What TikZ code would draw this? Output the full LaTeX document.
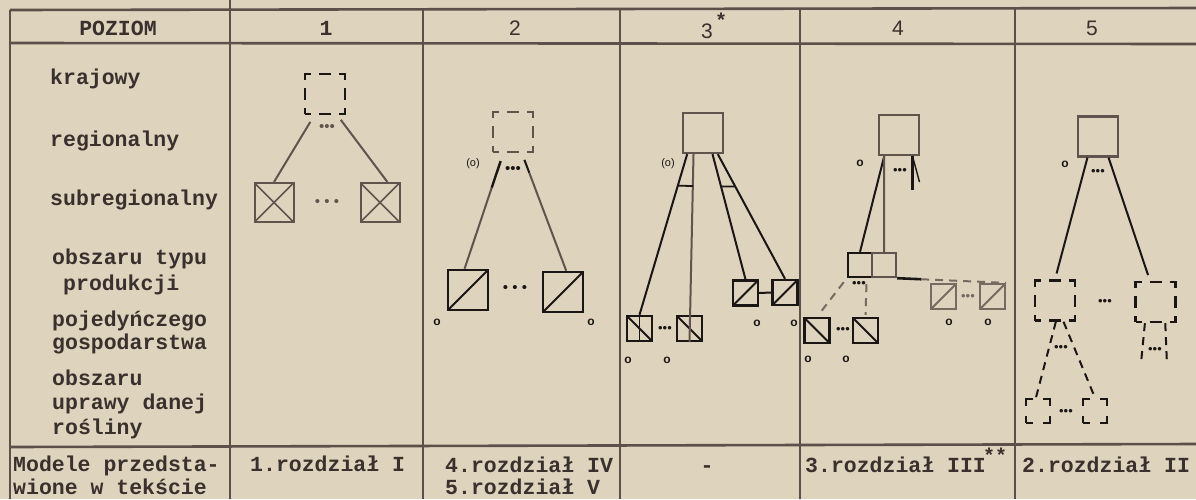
\documentclass[tikz,border=0pt]{standalone}
\usepackage{fontspec}
\setmonofont{Liberation Mono}
\setsansfont{Liberation Sans}
\usetikzlibrary{calc}
\definecolor{paper}{RGB}{222,211,188}
\definecolor{ink}{RGB}{26,22,22}
\definecolor{gink}{RGB}{96,84,78}
\definecolor{lgink}{RGB}{118,106,98}
\definecolor{rulec}{RGB}{92,80,75}
\definecolor{txt}{RGB}{58,49,46}
\tikzset{
  rulel/.style={rulec,line width=2.6pt},
  tw/.style={font=\ttfamily\bfseries\fontsize{21.5}{25}\selectfont,text=txt,inner sep=0pt,anchor=base west},
  twc/.style={tw,anchor=base},
  hd/.style={font=\sffamily\fontsize{21}{24}\selectfont,text=txt,inner sep=0pt,anchor=base},
  sqr/.style={draw,rectangle,inner sep=0pt,minimum size=#1},
  sqr/.default=40,
  dsq/.style={sqr=#1,dash pattern=on 12pt off 8pt,dash phase=6pt},
  dsq/.default=40,
  bsq/.style={sqr=24,dash pattern=on 14pt off 10pt,dash phase=7pt},
  xcross/.style={path picture={\draw[gink,line width=1.6pt] (path picture bounding box.south west) -- (path picture bounding box.north east) (path picture bounding box.north west) -- (path picture bounding box.south east);}},
  dup/.style={path picture={\draw[#1,line width=2pt] (path picture bounding box.south west) -- (path picture bounding box.north east);}},
  dup/.default=ink,
  ddown/.style={path picture={\draw[#1,line width=2pt] (path picture bounding box.north west) -- (path picture bounding box.south east);}},
  ddown/.default=ink,
  ddownmid/.style={path picture={\draw[ink,line width=2pt] (path picture bounding box.north west) -- (path picture bounding box.south east); \draw[#1,line width=1.8pt] (path picture bounding box.north) -- (path picture bounding box.south);}},
  ddownmid/.default=ink,
  bigdots/.style={font=\sffamily\fontsize{15}{15}\selectfont,text=#1,inner sep=0pt},
  bigdots/.default=ink,
  smdots/.style={font=\sffamily\fontsize{13}{13}\selectfont,text=#1,inner sep=0pt},
  smdots/.default=ink,
  omark/.style={font=\sffamily\bfseries\fontsize{12}{12}\selectfont,text=ink,inner sep=0pt},
  pmark/.style={font=\sffamily\fontsize{11}{11}\selectfont,text=ink,inner sep=0pt},
  starmark/.style={font=\ttfamily\bfseries\fontsize{20}{20}\selectfont,text=txt,inner sep=0pt},
  conn/.style={line width=2pt},
  dconn/.style={line width=2pt,dash pattern=on 8pt off 6pt},
}
\begin{document}
\begin{tikzpicture}[x=1pt,y=-1pt]
\useasboundingbox (0,0) rectangle (1196,499);
\fill[paper] (0,0) rectangle (1196,499);
% table grid
\draw[rulel] (10,10) -- (1196,8);
\draw[rulel] (10,43) -- (1196,44);
\draw[rulel] (10,447) -- (1196,444);
\draw[rulel] (10,10) -- (10,499);
\draw[rulel] (230,0) -- (230,499);
\draw[rulel] (423,9) -- (423,499);
\draw[rulel] (620,9) -- (620,499);
\draw[rulel] (800,9) -- (800,499);
\draw[rulel] (1015,8) -- (1015,499);
% left column
\node[twc] (hpoz) at (118,35) {POZIOM};
\node[tw] (l1) at (50,84) {krajowy};
\node[tw] (l2) at (50,146) {regionalny};
\node[tw] (l3) at (50,205) {subregionalny};
\node[tw] (l4a) at (52,264) {obszaru typu};
\node[tw] (l4b) at (63,290) {produkcji};
\node[tw] (l5a) at (52,326) {pojedyńczego};
\node[tw] (l5b) at (52,349) {gospodarstwa};
\node[tw] (l6a) at (52,385) {obszaru};
\node[tw] (l6b) at (52,409) {uprawy danej};
\node[tw] (l6c) at (52,434) {rośliny};
\node[tw] (m1) at (13,471) {Modele przedsta-};
\node[tw] (m2) at (13,494) {wione w tekście};
% headers
\node[twc] (h1) at (326,35) {1};
\node[hd] (h2) at (515,35) {2};
\node[hd] (h3) at (707,38) {3};
\node[starmark] (h3s) at (721,20) {*};
\node[hd] (h4) at (898,35) {4};
\node[hd] (h5) at (1092,35) {5};
% bottom row
\node[tw] (r1) at (250,471) {1.rozdział I};
\node[tw] (r2a) at (445,472) {4.rozdział IV};
\node[tw] (r2b) at (445,494) {5.rozdział V};
\node[twc] (r3) at (707,472) {-};
\node[tw] (r4) at (805,472) {3.rozdział III};
\node[starmark] (r4s) at (995,455) {**};
\node[tw] (r5) at (1022,472) {2.rozdział II};

% ---------- column 1
\node[dsq, draw=ink, line width=2pt] (k1) at (325,94) {};
\node[sqr=39, draw=gink, line width=2pt, xcross] (x1) at (274,202.5) {};
\node[sqr=39, draw=gink, line width=2pt, xcross] (x2) at (380,202.5) {};
\node[bigdots=gink] (d1a) at (327,128) {•••};
\node[bigdots=gink] (d1b) at (327,203) {• • •};
\draw[conn, gink, shorten <=8pt] ($(k1.south west)!0.25!(k1.south east)$) -- (x1.north);
\draw[conn, gink, shorten <=6pt] ($(k1.south west)!0.79!(k1.south east)$) -- ($(x2.north west)!0.68!(x2.north east)$);

% ---------- column 2
\node[dsq, draw=gink, line width=2pt] (k2) at (513,132) {};
\node[sqr, draw=ink, line width=2.6pt, dup] (y2a) at (468,290) {};
\node[sqr, draw=ink, line width=2.6pt, dup] (y2b) at (563,292) {};
\coordinate (a2s) at ($(k2.south west)!0.27!(k2.south east)$);
\coordinate (a2e) at ($(y2a.north west)!0.42!(y2a.north east)$);
\draw[conn, gink] ($(a2s)!0.3!(a2e)$) -- (a2e);
\draw[conn, ink, line width=2.4pt] ($(a2s)!0.07!(a2e)$) -- ($(a2s)!0.3!(a2e)$);
\coordinate (b2s) at ($(k2.south west)!0.71!(k2.south east)$);
\coordinate (b2e) at ($(y2b.north west)!0.575!(y2b.north east)$);
\draw[conn, gink] ($(b2s)!0.167!(b2e)$) -- (b2e);
\draw[conn, ink] ($(b2s)!0.058!(b2e)$) -- ($(b2s)!0.167!(b2e)$);
\node[bigdots] (d2a) at (513,170) {•••};
\node[bigdots] (d2b) at (515,289) {• • •};
\node[pmark] (p2) at (473,164) {(o)};
\node[omark] (o2a) at (437,322) {o};
\node[omark] (o2b) at (591,322) {o};

% ---------- column 3
\node[sqr, draw=gink, line width=2.2pt] (t3) at (703,133) {};
\node[sqr=25, draw=ink, line width=2.4pt, ddownmid] (b3a) at (639.5,328.5) {};
\node[sqr=25, draw=ink, line width=2.4pt, ddown] (b3b) at (689.5,328.5) {};
\node[sqr=25, draw=ink, line width=2.4pt, dup] (r3a) at (745.5,293) {};
\node[sqr=25, draw=ink, line width=2.4pt, dup] (r3b) at (785,292.5) {};
\draw[conn, ink] (r3a.east) -- (r3b.west);
\coordinate (A3s) at ($(t3.south west)!0.125!(t3.south east)$);
\coordinate (B3s) at ($(t3.south west)!0.275!(t3.south east)$);
\coordinate (C3s) at ($(t3.south west)!0.725!(t3.south east)$);
\coordinate (D3s) at ($(t3.south west)!0.85!(t3.south east)$);
\draw[conn, ink] (A3s) -- (b3a.north);
\draw[conn, gink] (B3s) -- (b3b.south);
\draw[conn, ink] (C3s) -- (r3a.north);
\draw[conn, ink] (D3s) -- (r3b.north);
\draw[line width=1.8pt, ink] ($(A3s)!0.196!(b3a.north)$) -- ($(B3s)!0.17!(b3b.south)$);
\draw[line width=1.8pt, ink] ($(C3s)!0.258!(r3a.north)$) -- ($(D3s)!0.26!(r3b.north)$);
\node[smdots] (d3a) at (665,329) {•••};
\node[pmark] (p3) at (668,164) {(o)};
\node[omark] (o3a) at (757,323) {o};
\node[omark] (o3b) at (794,323) {o};
\node[omark] (o3c) at (628,360) {o};
\node[omark] (o3d) at (667,360) {o};

% ---------- column 4
\node[sqr, draw=gink, line width=2.2pt] (t4) at (899,135) {};
\node[sqr=24, draw=ink, line width=2.4pt] (j4a) at (860,265) {};
\node[sqr=24, draw=gink, line width=2.4pt] (j4b) at (884,265) {};
\coordinate (t4s) at ($(t4.south west)!0.15!(t4.south east)$);
\draw[conn, ink] (t4s) -- (j4a.north);
\draw[conn, gink] (t4s) -- (j4b.north);
\coordinate (t4r) at ($(t4.south west)!0.82!(t4.south east)$);
\draw[ink, line width=2.4pt] (t4r) -- ++(0,34);
\draw[ink, line width=1.4pt] (t4r) -- ++(7,26);
\node[smdots] (d4a) at (900,171) {•••};
\node[omark] (o4a) at (860,163) {o};
\node[sqr=25, draw=lgink, line width=2.2pt, dup=lgink] (r4a) at (943.5,296.5) {};
\node[sqr=25, draw=lgink, line width=2.2pt, dup=lgink] (r4b) at (992.5,296.5) {};
\coordinate (j4m) at ($(j4b.south east)!0.22!(r4b.north east)$);
\draw[conn, ink, line width=2.6pt] (j4b.south east) -- (j4m);
\draw[dconn, lgink] (j4m) -- (r4b.north east);
\node[smdots=lgink] (d4b) at (968,297) {•••};
\node[omark] (o4b) at (949,322) {o};
\node[omark] (o4c) at (988,322) {o};
\node[smdots] (d4c) at (859,284) {•••};
\node[sqr=25, draw=ink, line width=2.4pt, ddown] (b4a) at (817,330.5) {};
\node[sqr=25, draw=ink, line width=2.4pt, ddown] (b4b) at (865.5,330.5) {};
\draw[dconn, lgink, shorten <=5pt, shorten >=4pt] (j4a.south west) -- (b4a.north);
\draw[dconn, lgink, shorten <=6pt, shorten >=2pt] ($(j4a.south west)!0.75!(j4a.south east)$) -- (b4b.north);
\node[smdots] (d4d) at (843,330) {•••};
\node[omark] (o4d) at (808,359) {o};
\node[omark] (o4e) at (846,359) {o};

% ---------- column 5
\node[sqr, draw=gink, line width=2.2pt] (t5) at (1098,136.5) {};
\node[dsq, draw=ink, line width=2.4pt] (q5a) at (1055,300.5) {};
\node[dsq, draw=ink, line width=2.4pt] (q5b) at (1155.5,302) {};
\draw[conn, ink, shorten >=6pt] ($(t5.south west)!0.25!(t5.south east)$) -- (q5a.north);
\draw[conn, ink, shorten >=6pt] ($(t5.south west)!0.75!(t5.south east)$) -- ($(q5b.north west)!0.37!(q5b.north east)$);
\node[smdots] (d5a) at (1098,172) {•••};
\node[omark] (o5a) at (1065,164) {o};
\node[smdots] (d5b) at (1105,302) {•••};
\node[bsq, draw=ink, line width=2.4pt] (s5a) at (1038,411) {};
\node[bsq, draw=ink, line width=2.4pt] (s5b) at (1095,411) {};
\draw[dconn, ink] ($(q5a.south west)!0.52!(q5a.south east)$) -- ($(s5a.north west)!0.42!(s5a.north east)$);
\draw[dconn, ink] ($(q5a.south west)!0.7!(q5a.south east)$) -- (s5b.north);
\node[smdots] (d5c) at (1061,348) {•••};
\node[smdots] (d5d) at (1066,412) {•••};
\coordinate (e5a) at (1141,363);
\coordinate (e5b) at (1167,365);
\draw[dconn, ink] ($(q5b.south west)!0.25!(q5b.south east)$) -- (e5a);
\draw[dconn, ink] ($(q5b.south west)!0.73!(q5b.south east)$) -- (e5b);
\node[smdots] (d5e) at (1155,350) {•••};
\end{tikzpicture}
\end{document}
